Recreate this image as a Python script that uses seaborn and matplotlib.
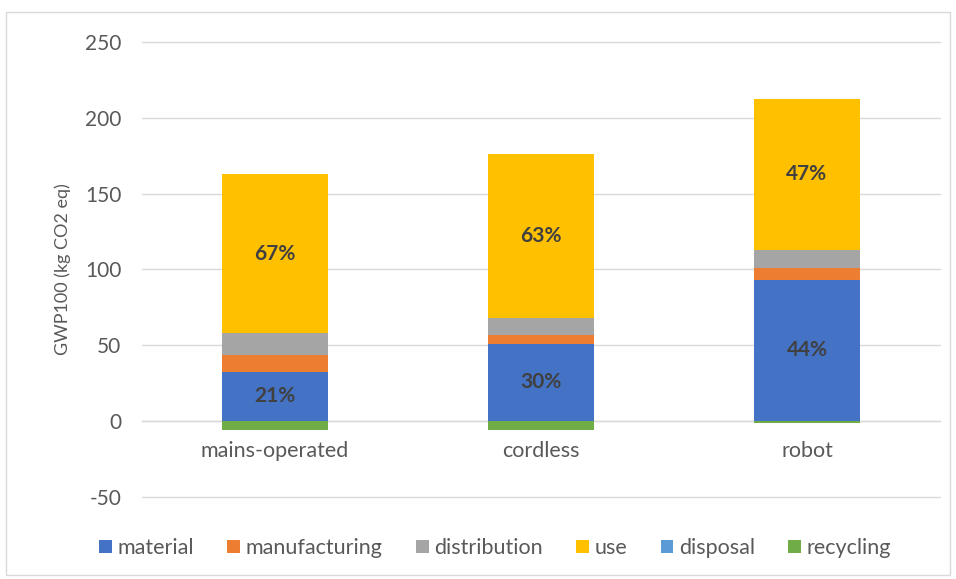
import matplotlib
matplotlib.use("Agg")
import matplotlib.pyplot as plt
from matplotlib.patches import Patch, Rectangle
import seaborn as sns
import pandas as pd
import numpy as np

products = ["mains-operated", "cordless", "robot"]
stages = ["material", "manufacturing", "distribution", "use", "disposal", "recycling"]
material = [32, 50.5, 93]
manufacturing = [11, 6, 7.5]
distribution = [14.5, 11, 12]
use = [105, 108, 99.5]
disposal = [0.4, 0.4, 0.4]
recycling = [-5.5, -5.5, -1.5]
material_pct = ["21%", "30%", "44%"]
use_pct = ["67%", "63%", "47%"]
yticks = [-50, 0, 50, 100, 150, 200, 250]

colors = {
    "material": "#4472C4",
    "manufacturing": "#ED7D31",
    "distribution": "#A5A5A5",
    "use": "#FFC000",
    "disposal": "#5B9BD5",
    "recycling": "#70AD47",
}

values = {
    "material": material,
    "manufacturing": manufacturing,
    "distribution": distribution,
    "use": use,
    "disposal": disposal,
    "recycling": recycling,
}

sns.set_theme(style="white")
plt.rcParams["font.family"] = ["Lato", "DejaVu Sans"]
plt.rcParams["axes.unicode_minus"] = False

fig = plt.figure(figsize=(9.56, 5.79), dpi=100)
ax = fig.add_axes([142/956, 1 - 497/579, (940-142)/956, (497-42)/579])

# chart border
fig.patches.append(Rectangle((6/956, 4/579), 944/956, 563/579, transform=fig.transFigure,
                             fill=False, edgecolor="#D9D9D9", linewidth=1.0))

pos_bottom = np.zeros(3)
neg_bottom = np.zeros(3)
order_stack = ["disposal", "material", "manufacturing", "distribution", "use", "recycling"]
for st in order_stack:
    v = np.array(values[st], dtype=float)
    df = pd.DataFrame({"product": products, "value": v})
    bottoms = np.where(v >= 0, pos_bottom, neg_bottom)
    sns.barplot(data=df, x="product", y="value", order=products, color=colors[st],
                errorbar=None, width=0.4, bottom=bottoms, ax=ax, zorder=3,
                saturation=1, linewidth=0)
    pos_bottom = pos_bottom + np.where(v >= 0, v, 0)
    neg_bottom = neg_bottom + np.where(v < 0, v, 0)

# percentage labels
mat_base = np.array(disposal)
for i in range(3):
    ym = mat_base[i] + material[i] / 2
    ax.text(i, ym, material_pct[i], ha="center", va="center", fontsize=15,
            fontweight="bold", color="#404040", zorder=5)
    ub = disposal[i] + material[i] + manufacturing[i] + distribution[i]
    ax.text(i, ub + use[i] / 2, use_pct[i], ha="center", va="center", fontsize=15,
            fontweight="bold", color="#404040", zorder=5)

ax.set_ylim(-50, 250)
ax.set_xlim(-0.5, 2.5)
ax.set_yticks(yticks)
ax.yaxis.grid(True, color="#D9D9D9", linewidth=1.0, zorder=0)
for gl in ax.get_ygridlines():
    gl.set_clip_on(False)
ax.set_axisbelow(True)
for s in ["top", "right", "left"]:
    ax.spines[s].set_visible(False)
ax.spines["bottom"].set_position(("data", 0))
ax.spines["bottom"].set_color("#D9D9D9")
ax.spines["bottom"].set_linewidth(1.0)
ax.spines["bottom"].set_zorder(1)
ax.tick_params(axis="y", length=0, pad=15, labelsize=15, labelcolor="#595959")
ax.tick_params(axis="x", length=0, pad=14, labelsize=15.5, labelcolor="#595959")
ax.set_xlabel("")
ax.set_ylabel("GWP100 (kg CO2 eq)", fontsize=13, color="#595959")
ax.yaxis.set_label_coords(-0.089, 0.5)
ax.set_facecolor("white")

handles = [Patch(facecolor=colors[s], edgecolor="none", label=s) for s in stages]
fig.legend(handles=handles, loc="center", bbox_to_anchor=(495/956, 1 - 548/579), ncol=6,
           frameon=False, fontsize=15.5, handlelength=0.6, handleheight=0.6,
           handletextpad=0.25, columnspacing=1.55, labelcolor="#595959")

fig.savefig("out.png", dpi=100, facecolor="white")
